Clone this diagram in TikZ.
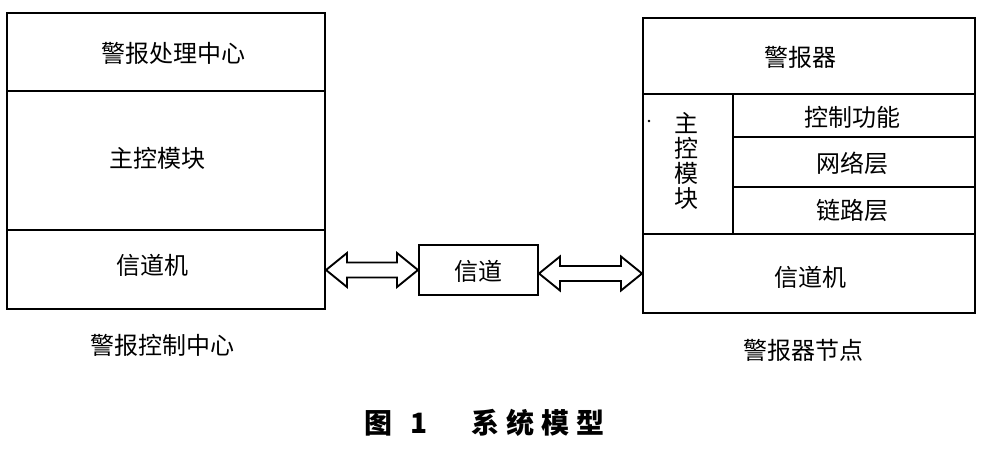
\documentclass[tikz,border=0pt]{standalone}
\usepackage{fontspec}
\newfontfamily\cjk{Noto Sans CJK SC}
\usetikzlibrary{calc}
\tikzset{
  cell/.style={draw, line width=2pt, rectangle, inner sep=0pt},
  lbl/.style={font=\cjk\fontsize{24}{25}\selectfont, inner sep=0pt},
  figcap/.style={font=\cjk\bfseries\fontsize{28}{30}\selectfont, inner sep=0pt, anchor=west},
  blockarrow/.style={draw, line width=1.9pt, fill=white, line join=miter}
}
\newcommand\dblarrow[2]{%
  \draw[blockarrow] let \p1=(#1), \p2=(#2) in
    (\x1,\y2) -- (\x1+21pt,\y2+17pt) -- (\x1+21pt,\y2+7.5pt) -- (\x2-21pt,\y2+7.5pt)
    -- (\x2-21pt,\y2+17pt) -- (\x2,\y2) -- (\x2-21pt,\y2-17pt) -- (\x2-21pt,\y2-7.5pt)
    -- (\x1+21pt,\y2-7.5pt) -- (\x1+21pt,\y2-17pt) -- cycle;}
\begin{document}
\begin{tikzpicture}[x=1pt,y=-1pt]
\useasboundingbox (0,0) rectangle (987,456);
% left block
\node[cell, minimum width=318pt, minimum height=78pt] (l1) at (166,52) {};
\node[cell, minimum width=318pt, minimum height=139pt] (l2) at (166,160.5) {};
\node[cell, minimum width=318pt, minimum height=79pt] (l3) at (166,269.5) {};
\node[lbl] (t1) at (173,53) {警报处理中心};
\node[lbl] (t2) at (157,158) {主控模块};
\node[lbl] (t3) at (152,265) {信道机};
\node[lbl] (capl) at (162,345) {警报控制中心};
% channel
\node[cell, minimum width=119pt, minimum height=50pt] (ch) at (478.5,270) {};
\node[lbl] (tch) at (478,271) {信道};
% right block
\node[cell, minimum width=332pt, minimum height=76pt] (r1) at (809,56) {};
\node[cell, minimum width=90pt, minimum height=140pt] (rm) at (688,164) {};
\node[cell, minimum width=242pt, minimum height=43pt] (r2) at (854,115.5) {};
\node[cell, minimum width=242pt, minimum height=50pt] (r3) at (854,162) {};
\node[cell, minimum width=242pt, minimum height=47pt] (r4) at (854,210.5) {};
\node[cell, minimum width=332pt, minimum height=79pt] (r5) at (809,273.5) {};
\node[lbl] (u1) at (800,57) {警报器};
\node[lbl, align=center] (um) at (686,161) {主\\控\\模\\块};
\fill (649,121) circle (1.3pt);
\node[lbl] (u2) at (852,117) {控制功能};
\node[lbl] (u3) at (852,163) {网络层};
\node[lbl] (u4) at (852,210) {链路层};
\node[lbl] (u5) at (810,277) {信道机};
\node[lbl] (capr) at (803,350) {警报器节点};
% arrows
\dblarrow{l3.east}{ch.west}
\dblarrow{ch.east}{r5.west}
% figure caption
\node[figcap] (fig) at (364,423) {图\hspace{18pt}1};
\node[figcap] (title) at (471,423) {系\hspace{7pt}统\hspace{7pt}模\hspace{7pt}型};
\end{tikzpicture}
\end{document}
